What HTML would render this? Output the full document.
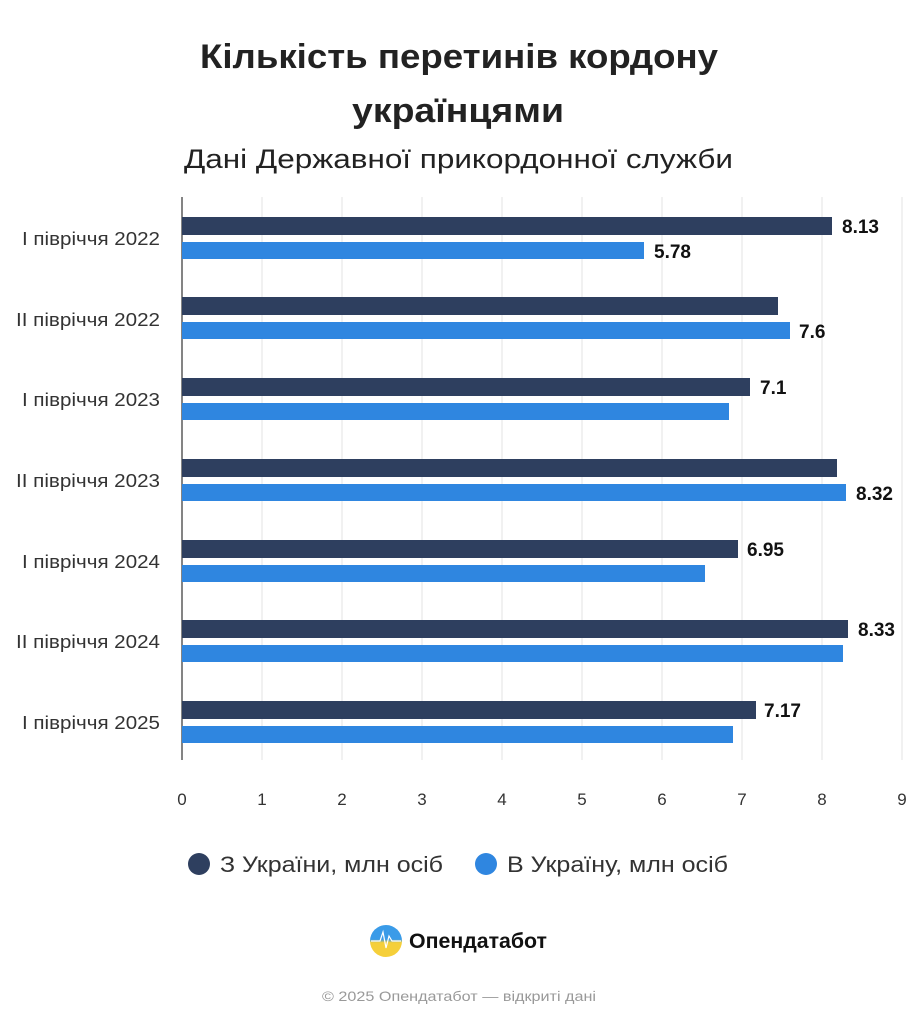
<!DOCTYPE html>
<html><head><meta charset="utf-8"><style>
body{margin:0;background:#fff;width:917px;height:1024px;overflow:hidden;font-family:"Liberation Sans",sans-serif}
</style></head><body>
<svg width="917" height="1024" xmlns="http://www.w3.org/2000/svg" font-family="Liberation Sans, sans-serif">
<text x="200" y="68" font-size="34" font-weight="bold" fill="#222" textLength="518" lengthAdjust="spacingAndGlyphs">Кількість перетинів кордону</text>
<text x="352" y="122" font-size="34" font-weight="bold" fill="#222" textLength="212" lengthAdjust="spacingAndGlyphs">українцями</text>
<text x="184" y="168" font-size="27" fill="#222" textLength="549" lengthAdjust="spacingAndGlyphs">Дані Державної прикордонної служби</text>
<g stroke="#e3e3e3" stroke-width="1">
<line x1="262" y1="197" x2="262" y2="760"/><line x1="342" y1="197" x2="342" y2="760"/><line x1="422" y1="197" x2="422" y2="760"/><line x1="502" y1="197" x2="502" y2="760"/><line x1="582" y1="197" x2="582" y2="760"/><line x1="662" y1="197" x2="662" y2="760"/><line x1="742" y1="197" x2="742" y2="760"/><line x1="822" y1="197" x2="822" y2="760"/><line x1="902" y1="197" x2="902" y2="760"/>
</g>
<line x1="182" y1="197" x2="182" y2="760" stroke="#333" stroke-width="1.2"/>
<g font-size="17" fill="#333" text-anchor="middle">
<text x="182" y="805">0</text><text x="262" y="805">1</text><text x="342" y="805">2</text><text x="422" y="805">3</text><text x="502" y="805">4</text><text x="582" y="805">5</text><text x="662" y="805">6</text><text x="742" y="805">7</text><text x="822" y="805">8</text><text x="902" y="805">9</text>
</g>
<g font-size="18" fill="#333">
<text x="22" y="245" textLength="138" lengthAdjust="spacingAndGlyphs">I півріччя 2022</text>
<text x="16" y="326" textLength="144" lengthAdjust="spacingAndGlyphs">II півріччя 2022</text>
<text x="22" y="406" textLength="138" lengthAdjust="spacingAndGlyphs">I півріччя 2023</text>
<text x="16" y="487" textLength="144" lengthAdjust="spacingAndGlyphs">II півріччя 2023</text>
<text x="22" y="568" textLength="138" lengthAdjust="spacingAndGlyphs">I півріччя 2024</text>
<text x="16" y="648" textLength="144" lengthAdjust="spacingAndGlyphs">II півріччя 2024</text>
<text x="22" y="729" textLength="138" lengthAdjust="spacingAndGlyphs">I півріччя 2025</text>
</g>
<g fill="#2e3f5f">
<rect x="182" y="217" width="650" height="18"/>
<rect x="182" y="297" width="596" height="18"/>
<rect x="182" y="378" width="568" height="18"/>
<rect x="182" y="459" width="655" height="18"/>
<rect x="182" y="540" width="556" height="18"/>
<rect x="182" y="620" width="666" height="18"/>
<rect x="182" y="701" width="574" height="18"/>
</g>
<g fill="#2f86e0">
<rect x="182" y="242" width="462" height="17"/>
<rect x="182" y="322" width="608" height="17"/>
<rect x="182" y="403" width="547" height="17"/>
<rect x="182" y="484" width="664" height="17"/>
<rect x="182" y="565" width="523" height="17"/>
<rect x="182" y="645" width="661" height="17"/>
<rect x="182" y="726" width="551" height="17"/>
</g>
<g font-size="19" font-weight="bold" fill="#111">
<text x="842" y="233">8.13</text>
<text x="654" y="258">5.78</text>
<text x="799" y="338">7.6</text>
<text x="760" y="394">7.1</text>
<text x="856" y="500">8.32</text>
<text x="747" y="556">6.95</text>
<text x="858" y="636">8.33</text>
<text x="764" y="717">7.17</text>
</g>
<circle cx="199" cy="864" r="11" fill="#2e3f5f"/>
<text x="220" y="872" font-size="22" fill="#333" textLength="223" lengthAdjust="spacingAndGlyphs">З України, млн осіб</text>
<circle cx="486" cy="864" r="11" fill="#2f86e0"/>
<text x="507" y="872" font-size="22" fill="#333" textLength="221" lengthAdjust="spacingAndGlyphs">В Україну, млн осіб</text>
<defs><linearGradient id="g" x1="0" y1="0" x2="0" y2="1"><stop offset="0.45" stop-color="#3a9be8"/><stop offset="0.55" stop-color="#f5cf3a"/></linearGradient></defs>
<circle cx="386" cy="941" r="16" fill="url(#g)"/>
<polyline points="371,941 380,941 383,932 386,948 389,936 392,941 401,941" fill="none" stroke="#fff" stroke-width="1.2"/>
<text x="409" y="948" font-size="21" font-weight="bold" fill="#111" textLength="138" lengthAdjust="spacingAndGlyphs">Опендатабот</text>
<text x="322" y="1001" font-size="14" fill="#999" textLength="274" lengthAdjust="spacingAndGlyphs">© 2025 Опендатабот — відкриті дані</text>
</svg>
</body></html>
